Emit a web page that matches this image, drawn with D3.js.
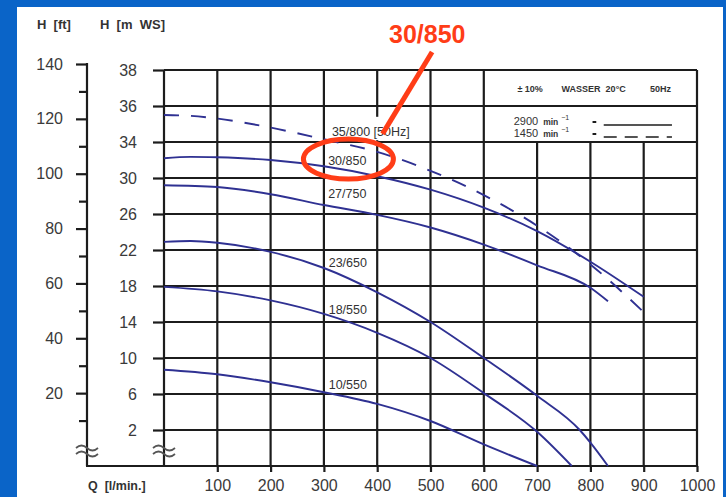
<!DOCTYPE html>
<html><head><meta charset="utf-8">
<script src="https://cdn.jsdelivr.net/npm/d3@7/dist/d3.min.js"></script>
<style>
html,body{margin:0;padding:0;background:#0a64c8;overflow:hidden;}
svg{display:block;}
text{font-family:"Liberation Sans",Arial,sans-serif;}
</style></head><body>
<svg id="c" width="726" height="497"></svg>
<script>
// ---------- data ----------
const qTicks = [100,200,300,400,500,600,700,800,900,1000];
const mTickValues = [2,6,10,14,18,22,26,30,34,38,42];
const mTickLabels = ["2","6","10","14","18","22","26","30","34","36","38"];
const ftMajor = [20,40,60,80,100,120,140];
const ftMinor = [10,30,50,70,90,110,130];

const curveNames = ["35/800","30/850","27/750","23/650","18/550","10/550"];
const curveDashed = [true,false,false,false,false,false];
const q_35_800 = [0,50,100,200,300,400,500,600,700,800,900];
const h_35_800 = [37.0,36.9,36.6,35.6,34.3,32.9,30.8,28.1,24.7,20.4,15.1];
const q_30_850 = [0,50,100,200,300,400,500,600,700,800,900];
const h_30_850 = [32.2,32.35,32.3,32.0,31.3,30.2,28.7,26.7,24.1,20.7,16.8];
const q_27_750 = [0,100,200,300,400,500,600,700,800,833];
const h_27_750 = [29.2,29.0,28.2,27.0,25.9,24.5,22.6,20.3,17.8,16.3];
const q_23_650 = [0,50,100,200,300,400,500,600,700,780,800,833];
const h_23_650 = [22.9,23.0,22.8,21.8,20.0,17.3,14.0,10.0,5.8,2.0,0.6,-2.0];
const q_18_550 = [0,100,200,300,400,500,600,700,765];
const h_18_550 = [17.9,17.4,16.4,14.9,12.8,10.0,6.1,1.8,-2.0];
const q_10_550 = [0,100,200,300,400,500,600,700];
const h_10_550 = [8.7,8.2,7.3,6.2,4.9,3.0,0.4,-2.0];
const curveQ = [q_35_800,q_30_850,q_27_750,q_23_650,q_18_550,q_10_550];
const curveH = [h_35_800,h_30_850,h_27_750,h_23_650,h_18_550,h_10_550];
const labelTexts = ["35/800 [50Hz]","30/850","27/750","23/650","18/550","10/550"];
const labelQ = [315,308,308,309,309,309];
const labelH = [35.2,31.9,28.3,20.6,15.4,7.1];

// ---------- layout ----------
const svg = d3.select("#c");
svg.append("rect").attr("x",17).attr("y",7).attr("width",706).attr("height",490).attr("fill","#fff");

const x = d3.scaleLinear().domain([0,1000]).range([164,697]);
const yM = d3.scaleLinear().domain([-2,42]).range([466,70]);
const yFt = d3.scaleLinear().domain([0,140]).range([448,64]);
const ink = "#1c1c1c", txt = "#3a3a3a", blue = "#2f3192", red = "#ff3d17";
const GW = 2.2;

// grid: horizontal lines
const g = svg.append("g");
g.selectAll("line.h").data(mTickValues).join("line")
  .attr("x1",x(0)).attr("x2",x(1000))
  .attr("y1",d=>yM(d)).attr("y2",d=>yM(d))
  .attr("stroke",ink).attr("stroke-width",GW);
// vertical lines
g.selectAll("line.v").data([0].concat(qTicks)).join("line")
  .attr("x1",d=>x(d)).attr("x2",d=>x(d))
  .attr("y1",d=> (d>600 && d<1000) ? yM(34) : yM(42))
  .attr("y2",yM(-2))
  .attr("stroke",ink).attr("stroke-width",GW);

// m axis ticks
const mAxis = d3.axisLeft(yM).tickValues(mTickValues).tickSize(11).tickPadding(16)
  .tickFormat((d,i)=>mTickLabels[i]);
const ma = svg.append("g").attr("transform",`translate(${x(0)},0)`).call(mAxis);
ma.select(".domain").remove();
ma.selectAll("line").attr("stroke",ink).attr("stroke-width",GW);
ma.selectAll("text").attr("font-size",16).attr("fill",txt).attr("font-family","Liberation Sans, Arial");

// ft axis
const ftX = 87;
const fa = svg.append("g").attr("transform",`translate(${ftX},0)`)
  .call(d3.axisLeft(yFt).tickValues(ftMajor).tickSize(11).tickPadding(13));
fa.select(".domain").remove();
fa.selectAll("line").attr("stroke",ink).attr("stroke-width",GW);
fa.selectAll("text").attr("font-size",16).attr("fill",txt).attr("font-family","Liberation Sans, Arial");
const fm = svg.append("g").attr("transform",`translate(${ftX},0)`)
  .call(d3.axisLeft(yFt).tickValues(ftMinor).tickSize(8).tickFormat(""));
fm.select(".domain").remove();
fm.selectAll("line").attr("stroke",ink).attr("stroke-width",GW);
svg.append("line").attr("x1",ftX).attr("x2",ftX).attr("y1",yFt(140)-1).attr("y2",yM(-2))
  .attr("stroke",ink).attr("stroke-width",GW);

// x axis
const xa = svg.append("g").attr("transform",`translate(0,${yM(-2)})`)
  .call(d3.axisBottom(x).tickValues(qTicks).tickSize(6).tickPadding(8).tickFormat(d3.format("d")));
xa.select(".domain").remove();
xa.selectAll("line").attr("stroke",ink).attr("stroke-width",GW);
xa.selectAll("text").attr("font-size",16).attr("fill",txt).attr("font-family","Liberation Sans, Arial");
svg.append("line").attr("x1",ftX-1).attr("x2",x(1000)+1).attr("y1",yM(-2)).attr("y2",yM(-2))
  .attr("stroke",ink).attr("stroke-width",GW);

// break marks
[ftX, x(0)].forEach(bx=>{
  [-3,3].forEach(dy=>{
    svg.append("path")
      .attr("d",`M${bx-11},${451+dy} q5.5,-5 11,0 t11,0`)
      .attr("fill","none").attr("stroke","#555").attr("stroke-width",1.7);
  });
});

// axis titles
svg.append("text").attr("x",37).attr("y",29).attr("font-size",13).attr("font-weight","bold")
  .attr("fill","#333").style("white-space","pre").text("H  [ft]");
svg.append("text").attr("x",100).attr("y",29).attr("font-size",13).attr("font-weight","bold")
  .attr("fill","#333").style("white-space","pre").text("H  [m  WS]");
svg.append("text").attr("x",88).attr("y",490).attr("font-size",12.5).attr("font-weight","bold")
  .attr("fill","#333").style("white-space","pre").text("Q  [l/min.]");

// white box behind the 35/800 label
svg.append("rect").attr("x",x(390)).attr("y",yM(36.8)).attr("width",x(470)-x(390)).attr("height",yM(34.2)-yM(36.8))
  .attr("fill","#fff");

// curves
const line = d3.line().x(d=>x(d[0])).y(d=>yM(d[1])).curve(d3.curveMonotoneX);
curveQ.forEach((qs,i)=>{
  const pts = qs.map((q,j)=>[q,curveH[i][j]]);
  svg.append("path").attr("d",line(pts)).attr("fill","none")
    .attr("stroke",blue).attr("stroke-width",1.9)
    .attr("stroke-dasharray",curveDashed[i]?"15,12":null);
});

// curve labels
labelTexts.forEach((t,i)=>{
  svg.append("text").attr("x",x(labelQ[i])).attr("y",yM(labelH[i])+4.5)
    .attr("font-size",12.5).attr("fill","#333").text(t);
});

// legend box text
svg.append("text").attr("x",x(663)).attr("y",yM(38)-14).attr("font-size",9).attr("font-weight","bold")
  .attr("fill","#333").text("± 10%");
svg.append("text").attr("x",x(746)).attr("y",yM(38)-14).attr("font-size",9).attr("font-weight","bold")
  .attr("fill","#333").text("WASSER  20°C").style("white-space","pre");
svg.append("text").attr("x",x(912)).attr("y",yM(38)-14).attr("font-size",9).attr("font-weight","bold")
  .attr("fill","#333").text("50Hz");
const legRows = [{rpm:"2900", dash:null, y:yM(38)+19},{rpm:"1450", dash:"13,8", y:yM(38)+31}];
legRows.forEach(r=>{
  const t = svg.append("text").attr("x",x(656)).attr("y",r.y).attr("font-size",11).attr("fill","#333");
  t.append("tspan").text(r.rpm);
  t.append("tspan").attr("dx",5).attr("font-size",8.5).attr("font-weight","bold").text("min");
  t.append("tspan").attr("dy",-5).attr("dx",3).attr("font-size",7).text("−1");
  svg.append("line").attr("x1",x(804)).attr("x2",x(811)).attr("y1",r.y-3).attr("y2",r.y-3)
    .attr("stroke",ink).attr("stroke-width",2);
  svg.append("line").attr("x1",x(825)).attr("x2",x(953)).attr("y1",r.y).attr("y2",r.y)
    .attr("stroke",ink).attr("stroke-width",1.5).attr("stroke-dasharray",r.dash);
});

// red annotation
svg.append("ellipse").attr("cx",x(346)).attr("cy",yM(32.1)).attr("rx",45).attr("ry",20)
  .attr("fill","none").attr("stroke",red).attr("stroke-width",5);
svg.append("line").attr("x1",x(503)).attr("y1",yM(44.0)).attr("x2",x(410)).attr("y2",yM(34.9))
  .attr("stroke",red).attr("stroke-width",5);
svg.append("text").attr("x",x(494)).attr("y",yM(46)).attr("text-anchor","middle").attr("dominant-baseline","central")
  .attr("font-size",25).attr("font-weight","bold").attr("fill",red).text("30/850");
</script>
</body></html>
